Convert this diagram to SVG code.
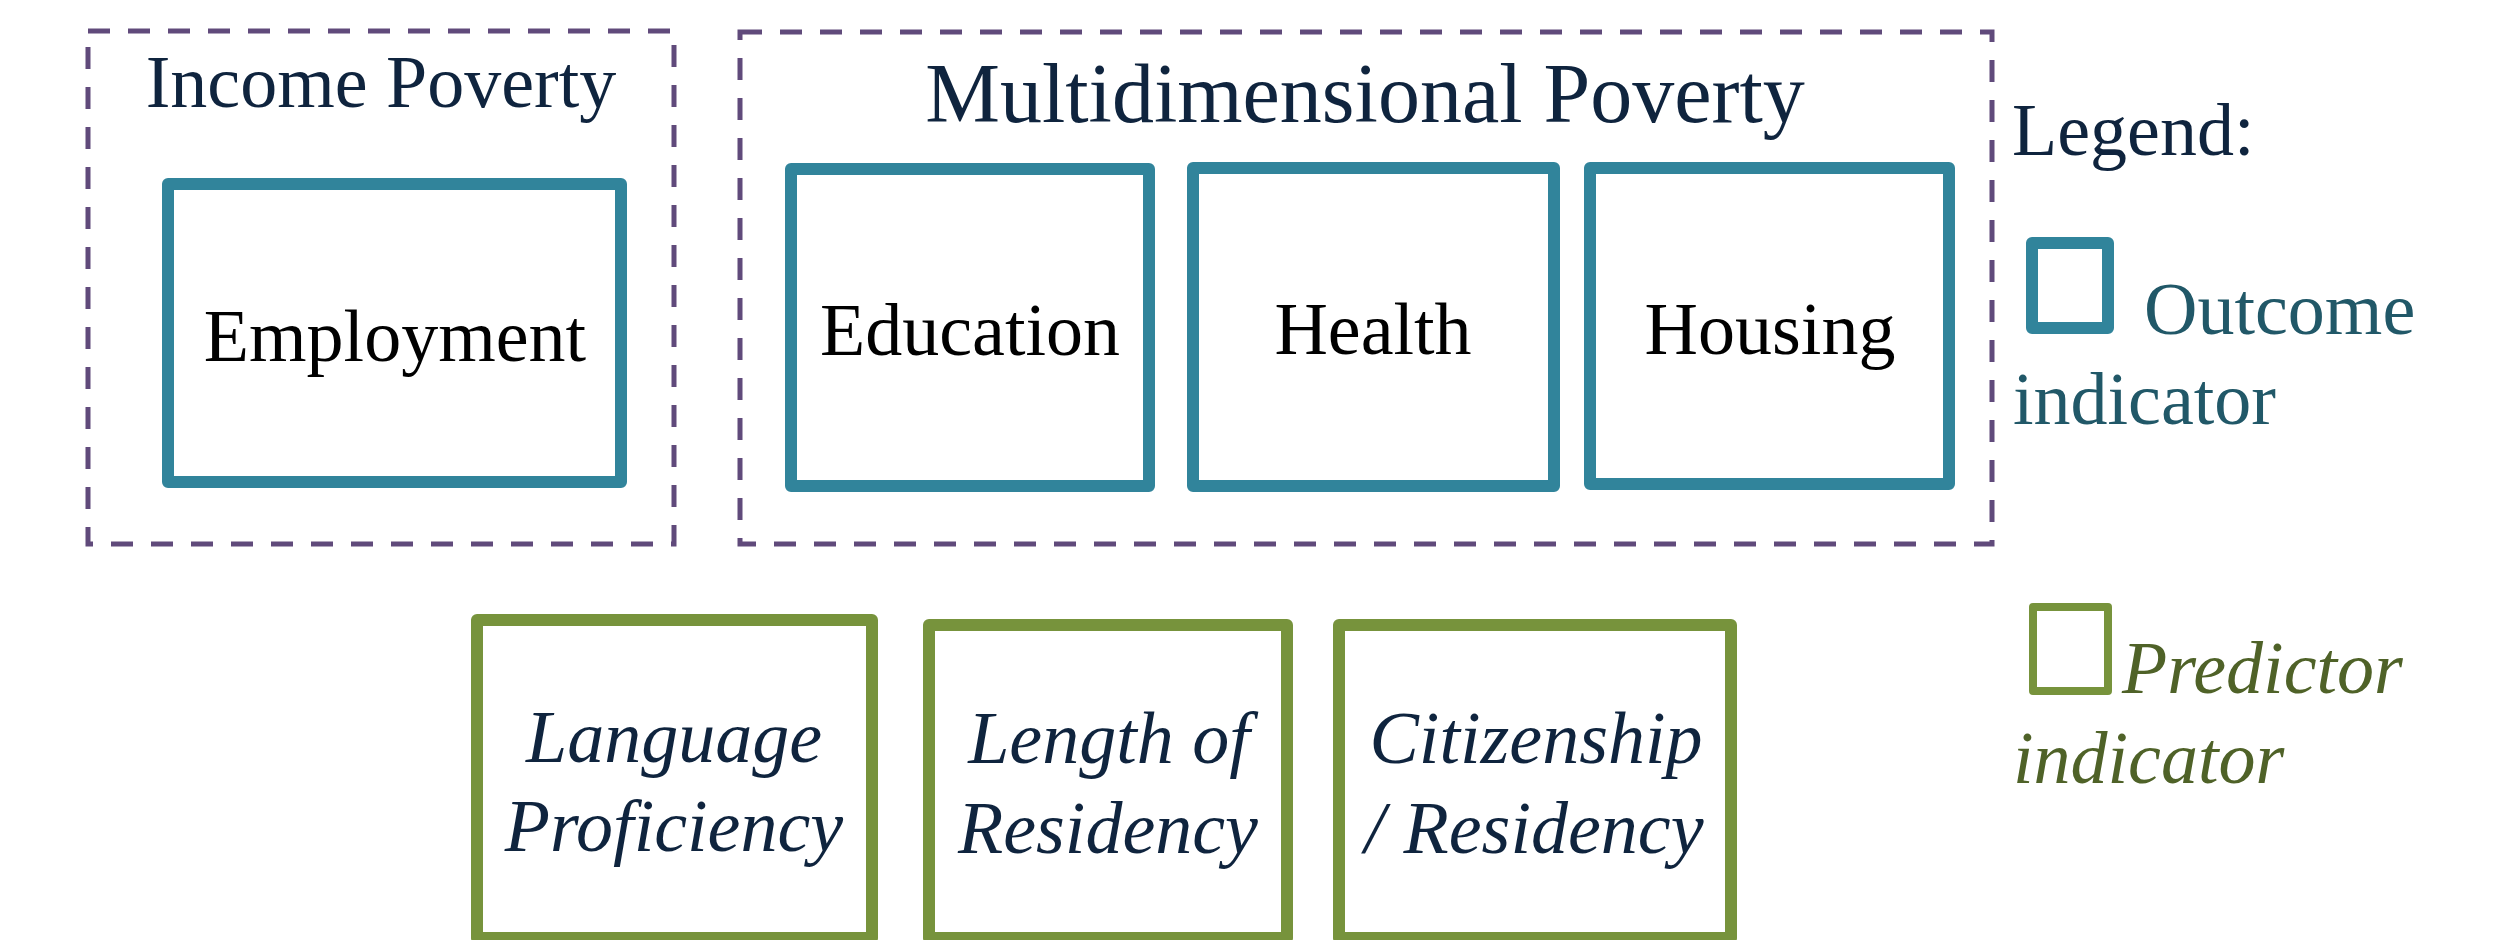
<svg xmlns="http://www.w3.org/2000/svg" width="2504" height="940" viewBox="0 0 2504 940">
<style>
.group{fill:none;stroke:#604a7b;stroke-width:5;stroke-dasharray:22 18}
.out{fill:#ffffff;stroke:#31849b;stroke-width:12;stroke-linejoin:round}
.pred{fill:#ffffff;stroke:#77933c;stroke-width:12;stroke-linejoin:round}
.t{font-family:"Liberation Serif","Times New Roman",serif;font-size:74px}
.title{fill:#0f243e;text-anchor:middle}
.lbl{fill:#000000;text-anchor:middle}
.plbl{fill:#0f243e;text-anchor:middle;font-style:italic}
</style>
<rect width="2504" height="940" fill="#ffffff"/>
<g id="income-poverty">
<rect class="group" x="88" y="31" width="586" height="513"/>
<text class="t title" x="381" y="107">Income Poverty</text>
</g>
<g id="multidimensional-poverty">
<rect class="group" x="740" y="32" width="1252" height="512"/>
<text class="t title" x="1365" y="122" style="font-size:84px">Multidimensional Poverty</text>
</g>
<g id="employment">
<rect class="out" x="168" y="184" width="453" height="298"/>
<text class="t lbl" x="395" y="361">Employment</text>
</g>
<g id="education">
<rect class="out" x="791" y="169" width="358" height="317"/>
<text class="t lbl" x="970" y="355">Education</text>
</g>
<g id="health">
<rect class="out" x="1193" y="168" width="361" height="318"/>
<text class="t lbl" x="1373" y="354">Health</text>
</g>
<g id="housing">
<rect class="out" x="1590" y="168" width="359" height="316"/>
<text class="t lbl" x="1770" y="354">Housing</text>
</g>
<g id="language-proficiency">
<rect class="pred" x="477" y="620" width="395" height="318"/>
<text class="t plbl" x="674" y="762">Language</text>
<text class="t plbl" x="674" y="851">Proficiency</text>
</g>
<g id="length-of-residency">
<rect class="pred" x="929" y="625" width="358" height="313"/>
<text class="t plbl" x="1109" y="763">Length of</text>
<text class="t plbl" x="1108" y="853">Residency</text>
</g>
<g id="citizenship-residency">
<rect class="pred" x="1339" y="625" width="392" height="313"/>
<text class="t plbl" x="1536" y="763">Citizenship</text>
<text class="t plbl" x="1534" y="853">/ Residency</text>
</g>
<g id="legend">
<text class="t" x="2012" y="155" fill="#0f243e">Legend:</text>
<rect x="2032" y="243" width="76" height="85" fill="#ffffff" stroke="#31849b" stroke-width="12" stroke-linejoin="round"/>
<text class="t" x="2144" y="334" fill="#215868">Outcome</text>
<text class="t" x="2013" y="424" fill="#215868">indicator</text>
<rect x="2033" y="607" width="75" height="84" fill="#ffffff" stroke="#77933c" stroke-width="8" stroke-linejoin="round"/>
<text class="t" x="2122" y="693" fill="#4f6228" font-style="italic">Predictor</text>
<text class="t" x="2013" y="783" fill="#4f6228" font-style="italic">indicator</text>
</g>
<g id="connectors"></g>
</svg>
